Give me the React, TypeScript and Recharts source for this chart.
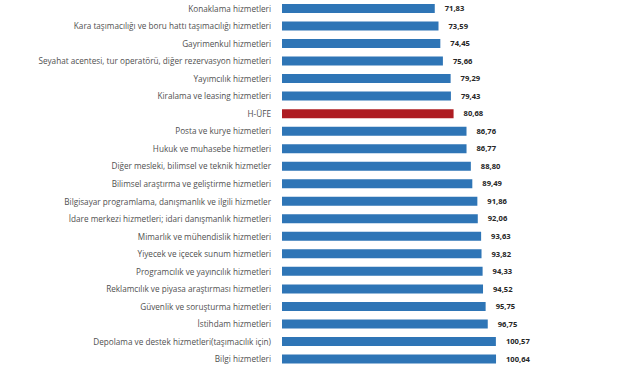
import React from "react";
import { BarChart, Bar, XAxis, YAxis, Cell, LabelList } from "recharts";

const categories = [
  "Konaklama hizmetleri",
  "Kara taşımacılığı ve boru hattı taşımacılığı hizmetleri",
  "Gayrimenkul hizmetleri",
  "Seyahat acentesi, tur operatörü, diğer rezervasyon hizmetleri",
  "Yayımcılık hizmetleri",
  "Kiralama ve leasing hizmetleri",
  "H-ÜFE",
  "Posta ve kurye hizmetleri",
  "Hukuk ve muhasebe hizmetleri",
  "Diğer mesleki, bilimsel ve teknik hizmetler",
  "Bilimsel araştırma ve geliştirme hizmetleri",
  "Bilgisayar programlama, danışmanlık ve ilgili hizmetler",
  "İdare merkezi hizmetleri; idari danışmanlık hizmetleri",
  "Mimarlık ve mühendislik hizmetleri",
  "Yiyecek ve içecek sunum hizmetleri",
  "Programcılık ve yayıncılık hizmetleri",
  "Reklamcılık ve piyasa araştırması hizmetleri",
  "Güvenlik ve soruşturma hizmetleri",
  "İstihdam hizmetleri",
  "Depolama ve destek hizmetleri(taşımacılık için)",
  "Bilgi hizmetleri",
];

const values = [
  71.83, 73.59, 74.45, 75.66, 79.29, 79.43, 80.68, 86.76, 86.77, 88.8, 89.49,
  91.86, 92.06, 93.63, 93.82, 94.33, 94.52, 95.75, 96.75, 100.57, 100.64,
];

const highlight = "H-ÜFE";

const data = categories.map((name, i) => ({ name, value: values[i] }));

const fmt = (v: any) => Number(v).toFixed(2).replace(".", ",");

const CategoryTick = (props: any) => {
  const { x, y, payload } = props;
  return (
    <text
      x={x}
      y={y}
      dy={3}
      textAnchor="end"
      fontSize={8.2}
      fill="#505050"
      fontFamily="Open Sans"
    >
      {payload.value}
    </text>
  );
};

export default function App() {
  return (
    <div style={{ position: "absolute", left: 0, top: 0, background: "#fff" }}>
      <BarChart
        width={640}
        height={372}
        data={data}
        layout="vertical"
        margin={{ top: 0, right: 39, bottom: 4, left: 0 }}
        barSize={9}
      >
        <XAxis type="number" domain={[0, 150]} hide />
        <YAxis
          type="category"
          dataKey="name"
          width={282}
          axisLine={false}
          tickLine={false}
          tickSize={0}
          tickMargin={11}
          interval={0}
          tick={<CategoryTick />}
        />
        <Bar dataKey="value" isAnimationActive={false}>
          {data.map((d) => (
            <Cell key={d.name} fill={d.name === highlight ? "#AE1C22" : "#2E75B6"} />
          ))}
          <LabelList
            dataKey="value"
            position="right"
            offset={10}
            formatter={fmt}
            style={{ fontSize: 7.6, fontWeight: 700, fill: "#262626", fontFamily: "Open Sans" }}
          />
        </Bar>
      </BarChart>
    </div>
  );
}
